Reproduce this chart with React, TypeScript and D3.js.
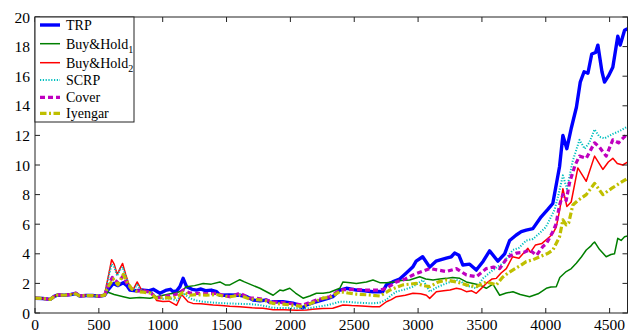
import React from "react";
import * as d3 from "d3";

type P = [number, number];

const xTickValues = [0, 500, 1000, 1500, 2000, 2500, 3000, 3500, 4000, 4500];
const yTickValues = [0, 2, 4, 6, 8, 10, 12, 14, 16, 18, 20];

const trp: P[] = [[0,1],[60,0.98],[120,0.92],[150,1.12],[180,1.22],[230,1.2],[280,1.25],[320,1.32],[350,1.15],[400,1.18],[450,1.18],[500,1.13],[545,1.2],[575,1.6],[613,2.0],[650,1.85],[691,2.05],[720,1.85],[743,1.55],[790,1.5],[847,1.55],[890,1.5],[926,1.6],[978,1.33],[1031,1.55],[1060,1.6],[1082,1.44],[1110,1.5],[1135,1.78],[1160,2.34],[1187,1.78],[1230,1.6],[1265,1.55],[1300,1.62],[1340,1.5],[1380,1.55],[1422,1.44],[1448,1.2],[1520,1.22],[1604,1.2],[1660,1.1],[1708,0.88],[1761,0.82],[1813,0.88],[1840,0.7],[1862,0.76],[1941,0.76],[2019,0.67],[2060,0.55],[2097,0.34],[2126,0.54],[2180,0.7],[2254,0.88],[2300,1.0],[2332,1.1],[2387,1.55],[2439,1.67],[2517,1.55],[2580,1.5],[2645,1.44],[2700,1.45],[2723,1.44],[2752,1.9],[2800,2.1],[2856,2.3],[2908,2.7],[2958,3.1],[2985,3.5],[3036,3.8],[3091,3.1],[3140,3.5],[3221,3.7],[3260,3.8],[3286,4.05],[3320,3.9],[3351,3.24],[3404,3.3],[3456,2.9],[3510,3.5],[3560,4.2],[3625,3.5],[3678,4.0],[3717,4.9],[3769,5.27],[3808,5.5],[3847,5.6],[3899,5.7],[3964,6.5],[4016,7.0],[4055,7.4],[4108,9.9],[4134,12.0],[4165,11.1],[4200,12.5],[4240,13.9],[4270,15.6],[4300,16.3],[4330,16.2],[4360,17.5],[4390,17.6],[4408,18.1],[4440,16.3],[4460,15.6],[4490,16.0],[4525,16.6],[4564,18.7],[4583,18.1],[4617,19.1],[4640,19.2]];

const buyHold1: P[] = [[0,1],[60,0.98],[120,0.92],[150,1.12],[180,1.22],[230,1.2],[280,1.25],[320,1.3],[350,1.15],[400,1.18],[450,1.18],[500,1.13],[545,1.2],[561,1.44],[620,1.25],[691,1.1],[743,1.0],[820,1.05],[900,1.0],[1004,1.2],[1060,1.3],[1109,1.37],[1150,1.5],[1187,1.78],[1250,1.85],[1317,2.0],[1380,1.95],[1448,2.1],[1490,1.9],[1526,1.9],[1570,2.1],[1604,2.25],[1640,2.1],[1682,1.95],[1761,1.67],[1820,1.4],[1865,1.2],[1917,1.55],[1943,1.5],[1995,1.67],[2040,1.35],[2099,1.0],[2152,1.15],[2204,1.33],[2256,1.33],[2308,1.4],[2387,1.67],[2412,2.1],[2470,2.05],[2517,2.0],[2595,2.1],[2647,2.23],[2700,2.05],[2752,2.05],[2804,2.1],[2870,2.2],[2934,2.23],[3013,2.45],[3060,2.3],[3117,2.23],[3170,2.3],[3221,2.34],[3270,2.4],[3326,2.34],[3378,2.1],[3430,2.0],[3482,1.9],[3534,1.67],[3586,1.95],[3639,1.2],[3690,1.35],[3743,1.44],[3800,1.25],[3873,1.1],[3940,1.3],[4004,1.67],[4040,1.75],[4082,1.78],[4110,2.4],[4160,2.8],[4200,3.0],[4239,3.36],[4280,3.8],[4317,4.26],[4350,4.5],[4369,4.7],[4382,4.8],[4420,4.3],[4473,3.8],[4510,3.95],[4538,4.0],[4564,5.05],[4590,4.9],[4617,5.15],[4640,5.2]];

const buyHold2: P[] = [[0,1],[60,0.98],[120,0.92],[150,1.15],[180,1.25],[230,1.22],[280,1.28],[320,1.32],[350,1.18],[400,1.2],[450,1.2],[500,1.15],[545,1.25],[575,2.5],[600,3.6],[620,3.3],[644,2.6],[665,3.0],[686,3.35],[710,2.6],[743,1.75],[770,1.6],[800,2.1],[835,1.55],[876,1.5],[920,1.35],[952,0.85],[1002,0.77],[1050,0.8],[1109,0.52],[1148,1.25],[1200,0.75],[1236,0.65],[1300,0.62],[1395,0.54],[1460,0.5],[1526,0.45],[1604,0.43],[1700,0.35],[1786,0.32],[1865,0.22],[1950,0.22],[2048,0.18],[2126,0.2],[2175,0.25],[2250,0.3],[2332,0.32],[2412,0.54],[2480,0.5],[2560,0.48],[2645,0.43],[2700,0.43],[2752,0.76],[2790,0.9],[2830,1.1],[2900,1.2],[2960,1.33],[3020,1.3],[3065,1.2],[3091,0.99],[3143,1.44],[3200,1.5],[3250,1.55],[3300,1.67],[3340,1.6],[3378,1.44],[3420,1.5],[3456,1.33],[3500,1.7],[3534,2.0],[3580,2.3],[3613,2.34],[3650,2.7],[3691,3.0],[3740,3.8],[3790,3.7],[3860,4.37],[3880,4.1],[3920,4.6],[3970,4.7],[4017,5.05],[4050,5.3],[4082,5.8],[4110,7.0],[4134,8.4],[4165,7.2],[4199,7.5],[4251,9.8],[4317,8.9],[4382,10.6],[4447,9.7],[4490,10.2],[4525,10.45],[4560,10.1],[4603,10.0],[4640,10.2]];

const scrp: P[] = [[0,1],[60,0.98],[120,0.92],[150,1.12],[180,1.22],[230,1.2],[280,1.25],[320,1.3],[350,1.15],[400,1.18],[450,1.18],[500,1.13],[545,1.22],[575,2.4],[600,3.3],[620,3.1],[644,2.5],[665,2.9],[686,3.1],[710,2.5],[743,1.7],[770,1.55],[800,1.9],[835,1.5],[876,1.45],[920,1.35],[952,1.05],[1002,0.95],[1060,1.0],[1109,0.85],[1160,1.33],[1213,1.0],[1260,0.85],[1317,0.76],[1400,0.7],[1500,0.65],[1604,0.62],[1680,0.6],[1761,0.54],[1865,0.35],[2000,0.33],[2126,0.3],[2200,0.4],[2300,0.55],[2387,0.76],[2450,0.75],[2520,0.7],[2645,0.65],[2700,0.7],[2752,0.9],[2790,1.2],[2830,1.44],[2900,1.6],[2960,1.78],[3039,2.23],[3091,1.44],[3150,1.75],[3221,2.0],[3300,2.23],[3340,2.1],[3378,1.85],[3456,1.67],[3508,2.34],[3586,2.9],[3665,3.36],[3717,4.0],[3743,4.26],[3790,4.4],[3847,4.9],[3900,5.0],[3952,5.4],[4000,5.8],[4030,6.3],[4070,7.0],[4100,8.0],[4134,9.3],[4165,8.4],[4212,10.3],[4264,11.7],[4304,11.1],[4340,11.5],[4382,12.4],[4421,11.9],[4460,11.8],[4525,12.1],[4580,12.3],[4640,12.6]];

const cover: P[] = [[0,1],[60,0.98],[120,0.92],[150,1.12],[180,1.22],[230,1.2],[280,1.25],[320,1.35],[350,1.15],[400,1.18],[450,1.18],[500,1.13],[545,1.2],[575,1.9],[605,2.4],[650,2.05],[690,2.5],[720,2.0],[760,1.6],[800,1.5],[850,1.5],[900,1.4],[952,1.0],[1004,1.1],[1080,1.2],[1120,1.3],[1160,1.55],[1213,1.35],[1265,1.33],[1340,1.3],[1422,1.33],[1470,1.2],[1526,1.1],[1604,1.33],[1682,1.0],[1735,1.0],[1800,0.9],[1865,0.76],[1940,0.7],[1995,0.65],[2099,0.54],[2150,0.7],[2204,0.88],[2308,1.1],[2387,1.55],[2491,1.6],[2595,1.55],[2700,1.55],[2752,1.67],[2830,2.1],[2900,2.3],[2960,2.57],[3030,2.8],[3091,3.0],[3160,2.9],[3221,2.8],[3300,3.0],[3378,2.57],[3456,2.45],[3534,3.0],[3590,3.1],[3639,3.0],[3704,3.8],[3772,4.05],[3830,4.1],[3873,4.26],[3928,3.9],[3978,4.5],[4006,4.7],[4056,5.5],[4080,6.0],[4108,7.3],[4134,8.0],[4160,7.6],[4186,8.8],[4230,10.0],[4264,10.6],[4317,10.45],[4382,11.5],[4421,11.2],[4473,10.6],[4525,11.7],[4570,11.5],[4603,11.8],[4640,12.1]];

const iyengar: P[] = [[0,1],[60,0.98],[120,0.92],[150,1.12],[180,1.22],[230,1.2],[280,1.25],[320,1.3],[350,1.15],[400,1.18],[450,1.18],[500,1.13],[545,1.2],[575,1.8],[613,2.3],[650,1.9],[691,2.6],[720,2.1],[760,1.6],[800,1.45],[850,1.4],[900,1.35],[952,1.0],[1004,1.05],[1080,1.0],[1120,1.15],[1160,1.4],[1213,1.2],[1265,1.25],[1340,1.2],[1422,1.25],[1470,1.15],[1526,1.1],[1604,1.2],[1682,0.95],[1735,0.9],[1800,0.85],[1865,0.65],[1940,0.6],[1995,0.55],[2099,0.43],[2150,0.6],[2254,1.0],[2308,1.05],[2387,1.44],[2450,1.35],[2517,1.28],[2645,1.2],[2700,1.15],[2752,1.4],[2778,1.55],[2882,1.9],[2987,2.0],[3040,1.85],[3091,1.78],[3160,2.1],[3221,2.23],[3300,2.1],[3378,1.9],[3456,1.78],[3534,2.1],[3613,1.9],[3660,2.4],[3704,2.7],[3760,3.0],[3800,3.2],[3847,3.47],[3900,3.6],[3952,3.8],[4010,4.0],[4056,4.26],[4108,5.15],[4134,6.3],[4160,5.95],[4180,6.1],[4212,7.3],[4251,7.6],[4317,8.0],[4382,8.76],[4447,8.0],[4512,8.4],[4577,8.76],[4640,9.1]];

const seriesNames = ["TRP", "Buy&Hold", "Buy&Hold", "SCRP", "Cover", "Iyengar"];
const seriesSubs = ["", "1", "2", "", "", ""];
const seriesData = [trp, buyHold1, buyHold2, scrp, cover, iyengar];
const seriesColors = ["#0000ff", "#007f00", "#ff0000", "#00bfbf", "#bf00bf", "#bfbf00"];
const seriesWidths = [3.4, 1.5, 1.5, 2, 3.2, 3.2];
const seriesDash = ["", "", "", "1.2,1.6", "5,3", "6.5,2.5,2,2.5"];

const W = 628;
const H = 332;
const L = 35;
const R = 627.5;
const T = 17;
const B = 313;
const FONT = "'Liberation Serif', 'Times New Roman', serif";

export default function App() {
  const x = d3.scaleLinear().domain([0, 4640]).range([L, R]);
  const y = d3.scaleLinear().domain([0, 20]).range([B, T]);
  const line = d3
    .line<P>()
    .x((d) => x(d[0]))
    .y((d) => y(d[1]));

  const legendRows = [25, 43.7, 62.7, 80, 97.3, 113.3];

  return (
    <svg
      width={W}
      height={H}
      style={{ position: "absolute", left: 0, top: 0, background: "#fff" }}
      fontFamily={FONT}
    >
      <defs>
        <clipPath id="plotclip">
          <rect x={L} y={T} width={R - L} height={B - T} />
        </clipPath>
      </defs>
      <rect x={0} y={0} width={W} height={H} fill="#fff" />
      <g clipPath="url(#plotclip)">
        {seriesData.map((d, i) => (
          <path
            key={i}
            d={line(d) || ""}
            fill="none"
            stroke={seriesColors[i]}
            strokeWidth={seriesWidths[i]}
            strokeDasharray={seriesDash[i] || undefined}
            strokeLinejoin="round"
          />
        ))}
      </g>
      <rect x={L} y={T} width={R - L} height={B - T} fill="none" stroke="#222" strokeWidth={1} />
      {xTickValues.map((v) => (
        <g key={"x" + v}>
          <line x1={x(v)} x2={x(v)} y1={B} y2={B - 5} stroke="#222" />
          <line x1={x(v)} x2={x(v)} y1={T} y2={T + 5} stroke="#222" />
          <text x={x(v)} y={330} fontSize={15.5} textAnchor="middle" fill="#000">
            {v}
          </text>
        </g>
      ))}
      {yTickValues.map((v) => (
        <g key={"y" + v}>
          <line x1={L} x2={L + 5} y1={y(v)} y2={y(v)} stroke="#222" />
          <line x1={R} x2={R - 5} y1={y(v)} y2={y(v)} stroke="#222" />
          <text x={30} y={y(v) + 5.5} fontSize={15.5} textAnchor="end" fill="#000">
            {v}
          </text>
        </g>
      ))}
      <g>
        <rect x={L} y={T} width={99} height={105} fill="#fff" stroke="#222" strokeWidth={1} />
        {seriesNames.map((name, i) => (
          <g key={"lg" + i}>
            <line
              x1={40}
              x2={60}
              y1={legendRows[i]}
              y2={legendRows[i]}
              stroke={seriesColors[i]}
              strokeWidth={seriesWidths[i]}
              strokeDasharray={seriesDash[i] || undefined}
            />
            <text x={66} y={legendRows[i] + 4.8} fontSize={14} fill="#000">
              {name}
              {seriesSubs[i] ? (
                <tspan fontSize={10} dy={4}>
                  {seriesSubs[i]}
                </tspan>
              ) : null}
            </text>
          </g>
        ))}
      </g>
    </svg>
  );
}
